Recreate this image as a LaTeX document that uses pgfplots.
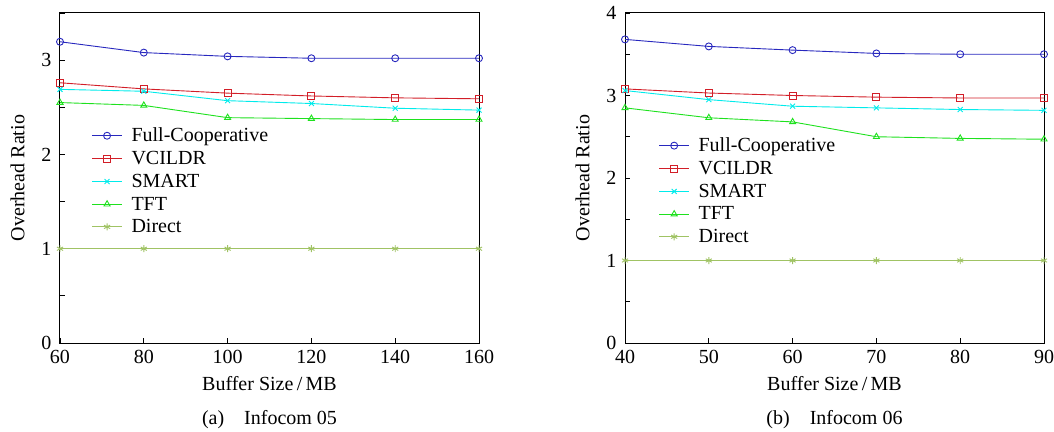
\documentclass[border=0pt]{standalone}
\usepackage{fontspec}
\setmainfont{Liberation Serif}
\usepackage{pgfplots}
\pgfplotsset{compat=1.18}

\definecolor{cfull}{RGB}{40,40,190}
\definecolor{cvci}{RGB}{210,30,40}
\definecolor{csmart}{RGB}{0,235,235}
\definecolor{ctft}{RGB}{30,225,30}
\definecolor{cdir}{RGB}{160,195,100}

\pgfplotsset{
  ovr/.style={
    scale only axis, width=419pt, height=330pt,
    font=\fontsize{20}{24}\selectfont,
    ymin=0,
    ytick distance=1, minor ytick={0.5,1.5,2.5,3.5},
    tick align=inside, xtick pos=bottom, ytick pos=left,
    major tick length=5pt, minor tick length=5pt,
    /pgf/number format/assume math mode=true,
    xticklabel style={yshift=-4pt},
    yticklabel style={xshift=-5pt},
    xlabel={Buffer Size\,/\,MB}, ylabel={Overhead Ratio},
    ylabel style={yshift=10pt},
    xlabel style={yshift=-6pt},
    axis line style={line width=1pt},
    every tick/.style={black, line width=0.8pt},
    legend style={draw=none, fill=none, font=\fontsize{20}{24}\selectfont,
      row sep=6pt, column sep=8pt, inner sep=0pt, nodes={inner sep=1pt}},
    legend cell align=left,
    legend image code/.code={
      \draw[mark repeat=2,mark phase=2] plot coordinates {(0pt,0pt) (15pt,0pt) (30pt,0pt)};},
    every axis plot/.append style={line width=0.9pt, mark size=3.5pt},
  },
  sfull/.style={cfull, mark=o},
  svci/.style={cvci, mark=square},
  ssmart/.style={csmart, mark=x},
  stft/.style={ctft, mark=triangle},
  sdir/.style={cdir, mark=asterisk},
}

\begin{document}
\begin{tikzpicture}
\useasboundingbox (-60pt,-88pt) rectangle (994pt,343pt);
\begin{axis}[ovr, name=a, xmin=60, xmax=160, xtick={60,80,...,160}, ymax=3.5,
  legend style={at={(rel axis cs:0.075,0.655)}, anchor=north west}]
\addplot[sfull] coordinates {(60,3.195)(80,3.08)(100,3.04)(120,3.02)(140,3.02)(160,3.02)};
\addplot[svci] coordinates {(60,2.76)(80,2.695)(100,2.65)(120,2.62)(140,2.60)(160,2.59)};
\addplot[ssmart] coordinates {(60,2.69)(80,2.67)(100,2.57)(120,2.54)(140,2.49)(160,2.47)};
\addplot[stft] coordinates {(60,2.55)(80,2.52)(100,2.39)(120,2.38)(140,2.37)(160,2.37)};
\addplot[sdir] coordinates {(60,1)(80,1)(100,1)(120,1)(140,1)(160,1)};
\legend{Full-Cooperative,VCILDR,SMART,TFT,Direct}
\end{axis}
\node[font=\fontsize{20}{24}\selectfont] at (209.5pt,-77pt) {(a)\quad Infocom 05};

\begin{axis}[ovr, name=b, at={(565pt,0pt)}, xmin=40, xmax=90, xtick={40,50,...,90}, ymax=4,
  legend style={at={(rel axis cs:0.08,0.625)}, anchor=north west}]
\addplot[sfull] coordinates {(40,3.68)(50,3.595)(60,3.55)(70,3.51)(80,3.50)(90,3.50)};
\addplot[svci] coordinates {(40,3.08)(50,3.03)(60,3.00)(70,2.98)(80,2.97)(90,2.97)};
\addplot[ssmart] coordinates {(40,3.06)(50,2.95)(60,2.87)(70,2.85)(80,2.83)(90,2.82)};
\addplot[stft] coordinates {(40,2.85)(50,2.73)(60,2.68)(70,2.50)(80,2.48)(90,2.47)};
\addplot[sdir] coordinates {(40,1)(50,1)(60,1)(70,1)(80,1)(90,1)};
\legend{Full-Cooperative,VCILDR,SMART,TFT,Direct}
\end{axis}
\node[font=\fontsize{20}{24}\selectfont] at (774.5pt,-77pt) {(b)\quad Infocom 06};
\end{tikzpicture}
\end{document}
